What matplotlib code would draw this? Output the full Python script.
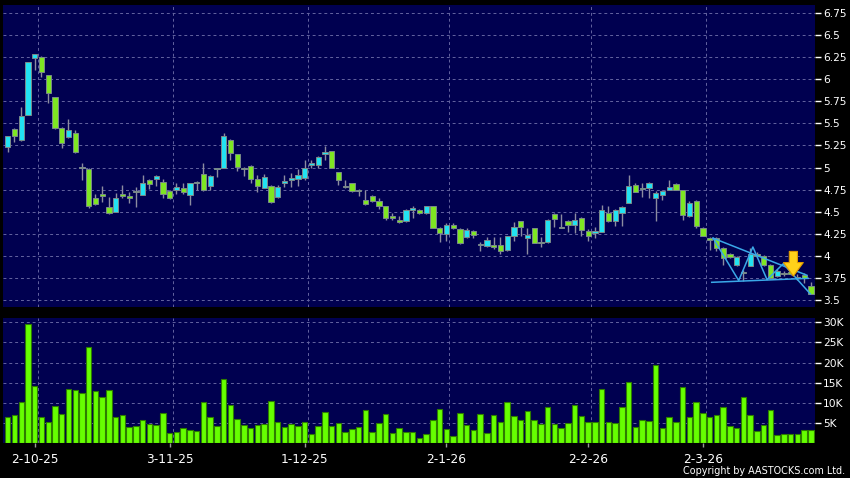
import matplotlib
matplotlib.use("Agg")
import matplotlib.pyplot as plt
import numpy as np

# daily OHLC, oldest first (trading days, 25-9-25 .. 2026-03)
opens = [5.235, 5.44, 5.31, 5.59, 6.24, 6.25, 6.05, 5.80, 5.45, 5.34,
         5.39, 5.00, 4.985, 4.66, 4.70, 4.55, 4.50, 4.70, 4.68, 4.73,
         4.69, 4.86, 4.87, 4.84, 4.73, 4.74, 4.77, 4.69, 4.83, 4.93,
         4.79, 4.99, 4.99, 5.31, 5.15, 4.99, 5.02, 4.87, 4.77, 4.79,
         4.67, 4.83, 4.86, 4.87, 4.88, 5.03, 5.03, 5.15, 5.19, 4.95,
         4.79, 4.83, 4.74, 4.63, 4.68, 4.62, 4.56, 4.45, 4.41, 4.39,
         4.52, 4.52, 4.49, 4.56, 4.32, 4.25, 4.35, 4.30, 4.21, 4.28,
         4.13, 4.11, 4.12, 4.12, 4.07, 4.23, 4.39, 4.20, 4.31, 4.16,
         4.16, 4.47, 4.32, 4.39, 4.35, 4.43, 4.28, 4.26, 4.27, 4.49,
         4.39, 4.49, 4.60, 4.80, 4.77, 4.77, 4.66, 4.69, 4.75, 4.81,
         4.74, 4.45, 4.62, 4.32, 4.20, 4.20, 4.09, 4.02, 3.90, 3.81,
         3.89, 4.02, 4.00, 3.90, 3.77, 3.81, 3.82, 3.75, 3.78, 3.66]
highs = [5.36, 5.45, 5.68, 6.19, 6.29, 6.26, 6.05, 5.80, 5.46, 5.55,
         5.42, 5.05, 4.99, 4.70, 4.79, 4.67, 4.71, 4.80, 4.72, 4.78,
         4.92, 4.87, 4.91, 4.87, 4.74, 4.82, 4.82, 4.83, 4.85, 5.05,
         4.92, 5.00, 5.39, 5.32, 5.15, 5.01, 5.03, 4.91, 4.93, 4.80,
         4.80, 4.92, 4.94, 4.98, 5.09, 5.08, 5.13, 5.24, 5.19, 4.95,
         4.86, 4.83, 4.76, 4.74, 4.69, 4.66, 4.56, 4.49, 4.45, 4.53,
         4.56, 4.53, 4.56, 4.56, 4.33, 4.37, 4.37, 4.31, 4.32, 4.29,
         4.16, 4.21, 4.21, 4.21, 4.23, 4.38, 4.39, 4.31, 4.32, 4.21,
         4.42, 4.48, 4.47, 4.41, 4.49, 4.44, 4.30, 4.33, 4.57, 4.56,
         4.53, 4.56, 4.91, 4.83, 4.83, 4.84, 4.73, 4.75, 4.86, 4.82,
         4.74, 4.62, 4.63, 4.33, 4.21, 4.21, 4.10, 4.03, 4.00, 3.84,
         4.09, 4.04, 4.01, 3.91, 3.85, 3.83, 3.83, 3.79, 3.80, 3.70]
lows = [5.18, 5.29, 5.30, 5.59, 6.10, 6.02, 5.73, 5.44, 5.22, 5.33,
        5.16, 4.86, 4.545, 4.58, 4.61, 4.47, 4.50, 4.66, 4.60, 4.55,
        4.69, 4.76, 4.79, 4.66, 4.64, 4.70, 4.70, 4.58, 4.74, 4.73,
        4.74, 4.89, 4.99, 5.09, 4.96, 4.90, 4.83, 4.72, 4.77, 4.60,
        4.66, 4.78, 4.78, 4.79, 4.86, 5.00, 5.00, 5.08, 5.00, 4.80,
        4.77, 4.72, 4.68, 4.58, 4.61, 4.53, 4.41, 4.40, 4.37, 4.38,
        4.43, 4.47, 4.47, 4.32, 4.16, 4.17, 4.30, 4.13, 4.20, 4.20,
        4.06, 4.10, 4.08, 4.02, 4.06, 4.17, 4.23, 4.02, 4.14, 4.10,
        4.15, 4.33, 4.31, 4.27, 4.26, 4.23, 4.17, 4.20, 4.27, 4.38,
        4.34, 4.34, 4.60, 4.72, 4.67, 4.66, 4.39, 4.63, 4.74, 4.74,
        4.41, 4.44, 4.32, 4.22, 4.07, 4.05, 3.90, 3.97, 3.89, 3.71,
        3.88, 3.99, 3.89, 3.74, 3.76, 3.77, 3.78, 3.73, 3.69, 3.57]
closes = [5.36, 5.36, 5.58, 6.19, 6.28, 6.08, 5.84, 5.45, 5.28, 5.42,
          5.18, 5.00, 4.56, 4.59, 4.68, 4.48, 4.66, 4.68, 4.66, 4.73,
          4.82, 4.81, 4.90, 4.70, 4.66, 4.78, 4.72, 4.82, 4.83, 4.74,
          4.90, 5.00, 5.36, 5.16, 5.01, 4.99, 4.87, 4.79, 4.89, 4.61,
          4.78, 4.85, 4.88, 4.91, 5.00, 5.05, 5.12, 5.17, 5.00, 4.86,
          4.79, 4.73, 4.74, 4.59, 4.62, 4.56, 4.43, 4.43, 4.38, 4.52,
          4.54, 4.49, 4.56, 4.32, 4.26, 4.35, 4.31, 4.15, 4.29, 4.24,
          4.13, 4.18, 4.10, 4.06, 4.23, 4.33, 4.33, 4.24, 4.15, 4.14,
          4.40, 4.42, 4.32, 4.35, 4.41, 4.29, 4.23, 4.28, 4.52, 4.39,
          4.52, 4.55, 4.79, 4.72, 4.76, 4.83, 4.71, 4.73, 4.78, 4.75,
          4.46, 4.60, 4.34, 4.23, 4.18, 4.09, 3.97, 3.99, 3.99, 3.81,
          4.02, 4.00, 3.90, 3.75, 3.83, 3.79, 3.79, 3.75, 3.75, 3.57]
volumes = [6.4, 7.0, 10.2, 29.6, 14.25, 6.6, 5.2, 9.2, 7.3, 13.5,
           13.3, 12.4, 23.9, 12.9, 11.5, 13.1, 6.6, 6.9, 4.0, 4.3,
           5.9, 4.8, 4.5, 7.4, 2.5, 2.9, 3.8, 3.3, 3.1, 10.2,
           6.5, 4.4, 15.9, 9.5, 6.1, 4.6, 3.9, 4.6, 4.8, 10.5,
           5.25, 4.1, 4.9, 4.4, 5.3, 2.4, 4.4, 7.75, 4.2, 5.0,
           2.9, 3.6, 4.1, 8.3, 2.7, 5.0, 7.2, 2.5, 3.75, 2.8,
           2.8, 1.3, 2.25, 5.8, 8.6, 3.6, 1.9, 7.4, 4.6, 3.2,
           7.2, 2.6, 7.0, 5.25, 10.25, 6.75, 5.9, 8.1, 5.75, 4.9,
           8.9, 4.9, 3.8, 5.1, 9.6, 6.8, 5.3, 5.3, 13.4, 5.4,
           5.1, 8.9, 15.1, 4.1, 5.7, 5.6, 19.4, 3.7, 6.6, 5.25,
           14.0, 6.6, 10.25, 7.6, 6.4, 7.0, 8.9, 4.3, 3.8, 11.5,
           7.1, 3.0, 4.6, 8.25, 2.1, 2.2, 2.25, 2.4, 3.2, 3.25]  # thousands

date_idx = [4, 24, 44, 65, 86, 103]
date_labels = ["2-10-25", "3-11-25", "1-12-25", "2-1-26", "2-2-26", "2-3-26"]

# hand drawn pattern lines (bar index, price)
upper_line = ([104.5, 118.4], [4.20, 3.78])
lower_line = ([104.3, 118.6], [3.70, 3.745])
zigzag = ([104.5, 108.3, 110.4, 112.5, 114.9, 118.9],
          [4.20, 3.72, 4.10, 3.73, 3.91, 3.57])
arrow_at = (116.4, 4.05, 3.77)

BG = "#000050"
GRID = "#6464a0"
UP = "#22e2f2"
DOWN = "#7ee622"
WICK = "#8c8ca0"

x = np.arange(len(opens))
o = np.array(opens)
c = np.array(closes)

fig = plt.figure(figsize=(8.5, 4.78), dpi=100, facecolor="black")
ax1 = fig.add_axes([0.0039, 0.3584, 0.9549, 0.6311], facecolor=BG)
ax2 = fig.add_axes([0.0039, 0.0726, 0.9549, 0.2615], facecolor=BG)

# candles
ax1.vlines(x, lows, highs, color=WICK, linewidth=1, zorder=2)
cols = [UP if cc > oo else (DOWN if cc < oo else WICK) for oo, cc in zip(o, c)]
heights = np.maximum(np.abs(c - o), 0.012)
bottoms = np.minimum(o, c) - np.where(np.abs(c - o) < 0.012, 0.006, 0)
ax1.bar(x, heights, bottom=bottoms, width=0.78, color=cols,
        edgecolor="#7a8a8a", linewidth=0.7, zorder=3)

# pattern lines
for xs, ys in [upper_line, lower_line, zigzag]:
    ax1.plot(xs, ys, color="#3aa8e8", linewidth=1.1, zorder=4)
ax1.annotate("", xy=(arrow_at[0], arrow_at[2]), xytext=(arrow_at[0], arrow_at[1]),
             arrowprops=dict(arrowstyle="simple,head_length=0.75,head_width=1.1,tail_width=0.45",
                             mutation_scale=13, fc="#ffd21a", ec="#e09a00", lw=0.8,
                             shrinkA=0, shrinkB=0),
             zorder=5)

ax1.set_xlim(-0.65, 119.6)
ax1.set_ylim(3.424, 6.84)
pticks = np.arange(3.5, 6.76, 0.25)
ax1.set_yticks(pticks)
ax1.set_yticklabels(["%g" % t for t in pticks])
ax1.set_xticks([])

# volume
ax2.bar(x, np.array(volumes) * 1000, width=0.8, color="#66ff00",
        edgecolor="#2e7d00", linewidth=0.8, zorder=3)
ax2.set_xlim(-0.65, 119.6)
ax2.set_ylim(0, 31000)
vticks = np.arange(5000, 30001, 5000)
ax2.set_yticks(vticks)
ax2.set_yticklabels(["%dK" % (t // 1000) for t in vticks])
ax2.set_xticks(date_idx)
ax2.set_xticklabels(date_labels)

for ax in (ax1, ax2):
    for s in ax.spines.values():
        s.set_visible(False)
    ax.yaxis.tick_right()
    ax.tick_params(axis="y", colors="white", labelsize=7.7, length=4, width=1, pad=2)
    ax.grid(axis="y", color=GRID, linestyle=(0, (3, 3)), linewidth=0.7, zorder=1)
    for d in date_idx:
        ax.axvline(d + 0.45, color=GRID, linestyle=(0, (3, 3)), linewidth=0.7, zorder=1)
ax2.tick_params(axis="x", colors="#9a9a9a", labelcolor="white", labelsize=8.7,
                length=3, width=1, pad=4)

fig.text(0.994, 0.0146, "Copyright by AASTOCKS.com Ltd.", ha="right", va="center",
         color="white", fontsize=6.9)

fig.savefig("out.png", dpi=100, facecolor="black")
